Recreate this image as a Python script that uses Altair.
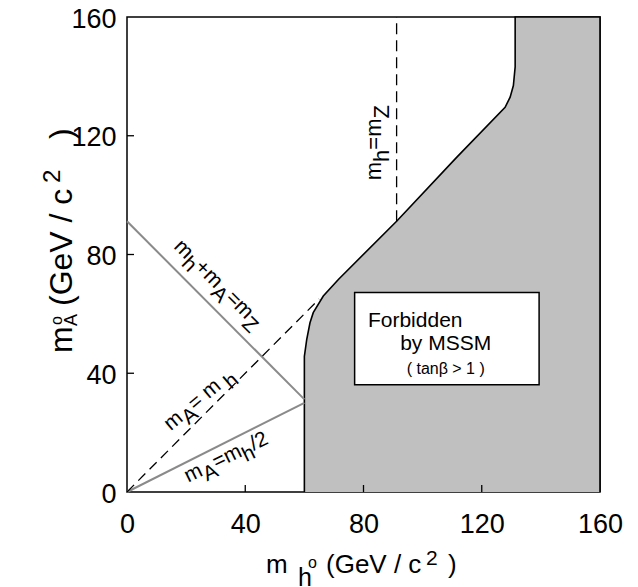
import altair as alt
import pandas as pd

FONT = "Liberation Sans"
W, H = 473, 475

MZ = 91.2

# Edge of the region excluded by the MSSM (m_h, m_A), from bottom to top
edge_mh = [60.0, 60.0, 60.8, 61.9, 63.0, 66.4, 71.5, 91.2, 111.5, 127.9, 129.6, 130.7, 131.3, 131.3]
edge_mA = [0.0, 45.7, 51.4, 57.0, 60.4, 66.0, 71.6, 91.2, 112.7, 129.6, 133.0, 136.9, 143.2, 160.0]
# the shaded region closes through the right-hand corners of the frame
corner_mh, corner_mA = [160.0, 160.0], [160.0, 0.0]

# Reference lines (end points)
sum_mh, sum_mA = [0.0, 60.0], [MZ, 31.2]        # m_h + m_A = m_Z
half_mh, half_mA = [0.0, 60.0], [0.0, 30.0]     # m_A = m_h / 2
diag_mh, diag_mA = [0.0, 65.0], [0.0, 65.0]     # m_A = m_h
mz_mh, mz_mA = [MZ, MZ], [MZ, 160.0]            # m_h = m_Z

axis_ticks = [0, 40, 80, 120, 160]
inner_ticks = [40, 80, 120]

# Arial / Liberation Sans advance widths (em)
ADV = {"m": .833, "h": .556, "A": .667, "Z": .611, "=": .584, "+": .584, " ": .278,
       "/": .278, "2": .556, "(": .333, ")": .333, "G": .778, "e": .556, "V": .667,
       "c": .5, "o": .556}


def text_width(s, size):
    return sum(ADV.get(ch, .556) for ch in s) * size


SCALE = alt.Scale(domain=[0, 160], nice=False, zero=False)
ONE = alt.Data(values=[{}])


def xd(v):
    return alt.XDatum(v, type="quantitative", scale=SCALE, axis=None)


def yd(v):
    return alt.YDatum(v, type="quantitative", scale=SCALE, axis=None)


def xf(field, axis=None):
    return alt.X(field, type="quantitative", scale=SCALE, axis=axis)


def yf(field, axis=None):
    return alt.Y(field, type="quantitative", scale=SCALE, axis=axis)


def seg_df(xs, ys):
    return pd.DataFrame({"mh": xs, "mA": ys, "i": list(range(len(xs)))})


def line_layer(xs, ys, color, width, dash=None, fill=None, xaxis=None, yaxis=None):
    kw = dict(color=color, strokeWidth=width, strokeCap="butt")
    if dash:
        kw["strokeDash"] = dash
    if fill:
        kw["fill"] = fill
    return alt.Chart(seg_df(xs, ys)).mark_line(**kw).encode(
        x=xf("mh", xaxis), y=yf("mA", yaxis), order="i:Q")


def text_layer(x, y, txt, size, angle=0, dx=0.0, dy=0.0, align="left"):
    kw = dict(text=txt, fontSize=size, font=FONT, dx=dx, dy=dy, align=align,
              baseline="alphabetic", color="black")
    if angle:
        kw["angle"] = angle
    return alt.Chart(ONE).mark_text(**kw).encode(x=x, y=y)


def rich(x, y, angle, parts):
    """parts: (text, shift, size) -- shift > 0 lowers the piece (subscript)."""
    out, pos = [], 0.0
    for txt, shift, size in parts:
        out.append(text_layer(x, y, txt, size, angle, dx=round(pos, 1), dy=shift))
        pos += text_width(txt, size)
    return out


def placed(x, y, angle, parts):
    """parts: (text, along, shift, size) with explicit offsets."""
    return [text_layer(x, y, t, s, angle, dx=a, dy=sh) for t, a, sh, s in parts]


# Forbidden region: the edge polyline, filled, closing along the frame.
# This layer carries the only axes of the chart.
region = line_layer(
    edge_mh + corner_mh, edge_mA + corner_mA, "black", 1.6, fill="#c0c0c0",
    xaxis=alt.Axis(values=axis_ticks, title=None, labelPadding=19),
    yaxis=alt.Axis(values=axis_ticks, title=None, labelPadding=11, labelOffset=2),
)

layers = [region,
          line_layer(sum_mh, sum_mA, "#8a8a8a", 2),
          line_layer(half_mh, half_mA, "#8a8a8a", 2),
          line_layer(diag_mh, diag_mA, "black", 1.3, [10, 6]),
          line_layer(mz_mh, mz_mA, "black", 1.3, [11, 6])]

# Inward tick marks
tick_df = pd.DataFrame({"v": inner_ticks})
layers.append(alt.Chart(tick_df).mark_rule(color="black", strokeWidth=1.3).encode(
    x=xf("v"), y=alt.value(H), y2=alt.value(H - 7)))
layers.append(alt.Chart(tick_df).mark_rule(color="black", strokeWidth=1.3).encode(
    y=yf("v"), x=alt.value(0), x2=alt.value(7)))

# Legend box
layers.append(alt.Chart(ONE).mark_rect(fill="white", stroke="black", strokeWidth=1.5).encode(
    x=xd(77.0), x2=alt.X2Datum(139.4), y=yd(36.1), y2=alt.Y2Datum(67.2)))
layers.append(text_layer(xd(81.5), yd(55.6), "Forbidden", 21))
layers.append(text_layer(xd(92.4), yd(47.8), "by  MSSM", 21))
layers.append(text_layer(xd(94.6), yd(39.7), "( tan\u03b2 > 1 )", 16))

# Line labels
S = 21
layers += rich(xd(85.8), yd(105.0), 270,
               [("m", 0, 22), ("h", 8, 22), ("=m", 0, 22), ("Z", 8, 22)])
layers += rich(xd(15.6), yd(82.4), 45,
               [("m", 0, S), ("h", 7, S), ("+m", 0, S), ("A", 7, S), ("=m", 0, S), ("Z", 7, S)])
layers += rich(xd(14.8), yd(20.5), 320,
               [("m", 0, S), ("A", 7, S), (" = m", 0, S), ("h", 7, S)])
layers += rich(xd(20.7), yd(3.1), 334,
               [("m", 0, S), ("A", 7, S), ("=m", 0, S), ("h", 7, S), ("/2", 0, S)])

# Axis titles
layers += placed(alt.value(139), alt.value(556), 0,
                 [("m", 0, 0, 26), ("h", 32, 13, 25), ("o", 42, -5, 16),
                  ("(GeV / c", 60, 0, 26), ("2", 160, -8, 21), (")", 182, 0, 26)])
layers += placed(alt.value(-55), alt.value(336), 270,
                 [("m", 0, 0, 32), ("A", 27, 5, 18), ("o", 28, -10, 16),
                  ("(GeV / c", 47, 0, 32), ("2", 170, -12, 24), (")", 214, 0, 32)])

chart = alt.layer(*layers).resolve_axis(
    x="independent", y="independent"
).properties(
    width=W, height=H,
    padding={"left": 127, "top": 17, "right": 38, "bottom": 95},
    autosize=alt.AutoSizeParams(type="none"),
    background="white",
).configure_view(stroke="black", strokeWidth=1.5).configure_axis(
    grid=False, domain=False, ticks=False,
    labelFont=FONT, labelFontSize=27, labelColor="black",
    labelFlush=False, labelOverlap=False,
)

chart.save("out.html", embed_options={"renderer": "svg", "actions": False})
